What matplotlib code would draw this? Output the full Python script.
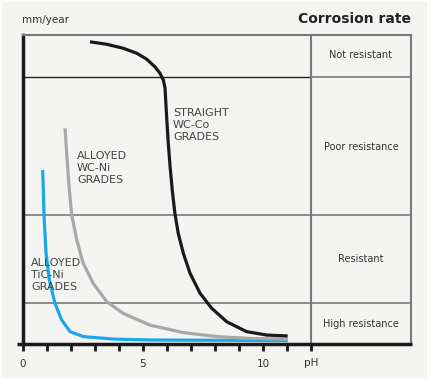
import matplotlib
matplotlib.use("Agg")
import matplotlib.pyplot as plt
from matplotlib.patches import Rectangle

# curve data: pH vs relative corrosion rate (0 = axis, 100 = top of chart)
co_ph = [2.79, 3.49, 4.18, 4.74, 5.15, 5.50, 5.71, 5.85, 5.92, 5.95, 5.99, 6.05, 6.13,
         6.22, 6.33, 6.47, 6.68, 6.96, 7.38, 7.86, 8.49, 9.32, 10.15, 11.03]
co_rate = [97.8, 97.0, 95.7, 94.1, 92.2, 89.7, 87.6, 85.4, 82.8, 78.4, 73.0, 65.5, 57.4,
           49.8, 42.3, 35.8, 29.4, 22.9, 16.4, 11.6, 7.2, 4.0, 2.9, 2.6]

wcni_ph = [1.75, 1.82, 1.92, 2.03, 2.24, 2.51, 2.93, 3.49, 4.18, 5.29, 6.68, 8.07, 9.46, 11.03]
wcni_rate = [69.8, 61.7, 50.9, 41.7, 33.7, 26.1, 19.6, 13.7, 9.9, 6.1, 3.7, 2.4, 1.8, 1.6]

ticni_ph = [0.82, 0.85, 0.875, 0.96, 1.10, 1.33, 1.61, 1.96, 2.51, 3.76, 5.29, 11.03]
ticni_rate = [56.3, 48.8, 41.7, 29.4, 20.7, 13.2, 7.8, 4.0, 2.4, 1.6, 1.3, 1.1]

band_edges = [13.3, 41.7, 86.4]
band_labels = ["High resistance", "Resistant", "Poor resistance", "Not resistant"]
band_mid = [6.6, 27.5, 63.8, 93.5]

x_ticks = list(range(13))
x_labels = ["0", "", "", "", "", "5", "", "", "", "", "10", "", ""]

BG = "#f4f4f2"
TXT = "#333333"
GRID = "#7a7a7a"
XMAX = 16.17
COL_X = 12.0

fig = plt.figure(figsize=(4.3, 3.8), dpi=100, facecolor=BG)
fig.patches.append(Rectangle((0.002, 0.003), 0.994, 0.994, transform=fig.transFigure,
                             fill=False, edgecolor="white", linewidth=1.2))
ax = fig.add_axes([23 / 430, 36 / 380, 388 / 430, 309 / 380])
ax.set_facecolor(BG)
ax.set_xlim(0, XMAX)
ax.set_ylim(0, 100)

for s in ["top", "right"]:
    ax.spines[s].set_color(GRID)
    ax.spines[s].set_linewidth(1.5)
ax.spines["left"].set_color("#1a1a1a")
ax.spines["left"].set_linewidth(2.5)
ax.spines["bottom"].set_visible(False)
# bottom axis line extends slightly past the frame
ax.plot([-0.25, XMAX + 0.05], [0, 0], color="#1a1a1a", lw=2.5, clip_on=False, zorder=5,
        solid_capstyle="butt")

# band dividers
ax.plot([0, COL_X], [band_edges[2]] * 2, color="#222222", lw=1.0)
ax.plot([COL_X, XMAX], [band_edges[2]] * 2, color=GRID, lw=1.2)
for y in band_edges[:2]:
    ax.plot([0, XMAX], [y, y], color=GRID, lw=1.2)
ax.axvline(COL_X, color=GRID, lw=1.5)

for lab, y in zip(band_labels, band_mid):
    ax.text((COL_X + XMAX) / 2, y, lab, ha="center", va="center", fontsize=7, color=TXT)

line_kw = dict(lw=2.3, solid_capstyle="butt", solid_joinstyle="round")
ax.plot(ticni_ph, ticni_rate, color="#1aa9e8", **line_kw)
ax.plot(wcni_ph, wcni_rate, color="#a8a8a8", **line_kw)
ax.plot(co_ph, co_rate, color="#1a1a1a", **line_kw)

lab_kw = dict(fontsize=8, color="#444444", va="top", ha="left", linespacing=1.25)
ax.text(6.25, 76.5, "STRAIGHT\nWC-Co\nGRADES", **lab_kw)
ax.text(2.25, 62.3, "ALLOYED\nWC-Ni\nGRADES", **lab_kw)
ax.text(0.33, 27.7, "ALLOYED\nTiC-Ni\nGRADES", **lab_kw)

ax.set_yticks([])
ax.set_xticks(x_ticks)
ax.set_xticklabels(x_labels)
ax.tick_params(axis="x", length=5, width=2, color="#1a1a1a", labelsize=7.5,
               labelcolor=TXT, pad=6)
ax.text(12.0, -4.6, "pH", ha="center", va="top", fontsize=7.5, color=TXT)

fig.text(22 / 430, 1 - 20 / 380, "mm/year", ha="left", va="center", fontsize=7.5, color=TXT)
fig.text(411 / 430, 1 - 19 / 380, "Corrosion rate", ha="right", va="center",
         fontsize=10, fontweight="bold", color="#222222")

fig.savefig("out.png", dpi=100, facecolor=BG)
